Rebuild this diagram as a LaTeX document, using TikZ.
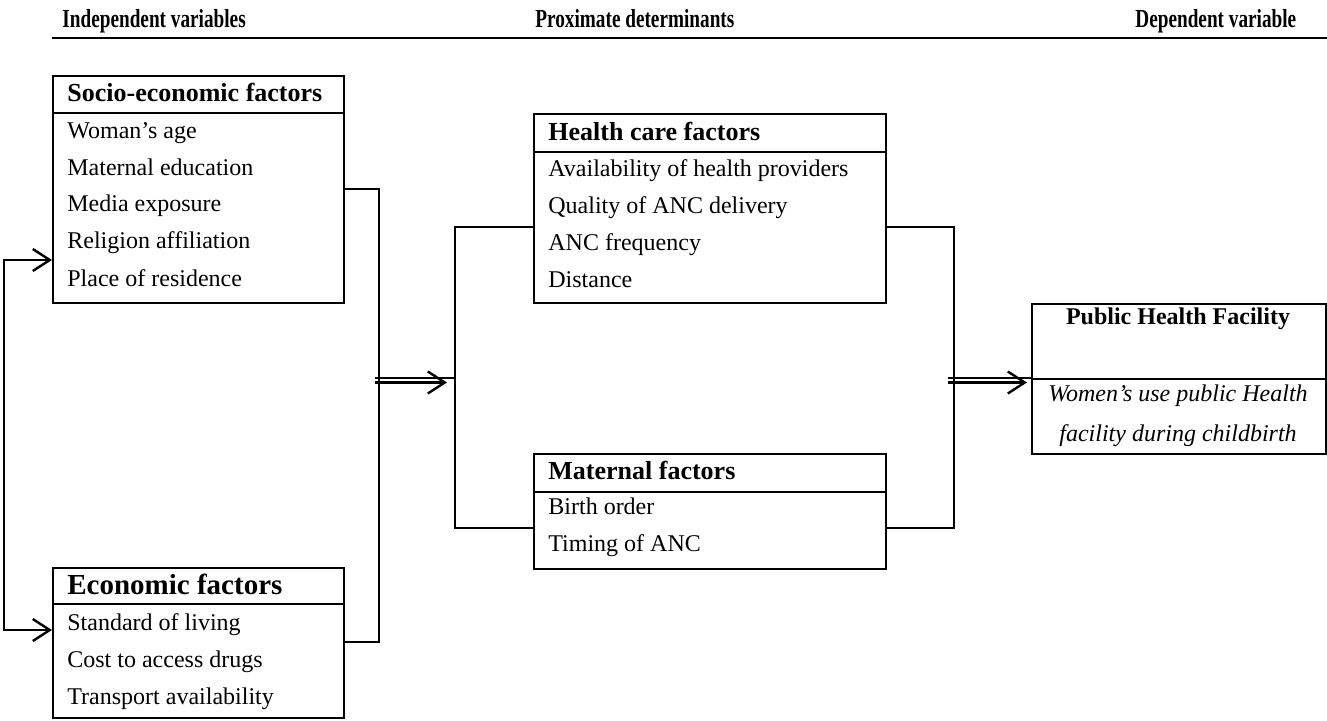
\documentclass[tikz,border=0pt]{standalone}
\usepackage{fontspec}
\setmainfont{Liberation Serif}
\usetikzlibrary{arrows.meta,calc}
\begin{document}
\begin{tikzpicture}[x=0.5pt,y=-0.5pt,
  frame/.style={draw, line width=1.2pt, rectangle, anchor=north west, inner sep=0pt},
  colhead/.style={anchor=west, inner sep=0pt, text height=10pt, text depth=1.2pt,
    font=\fontsize{13pt}{15pt}\selectfont\bfseries},
  boxtitle/.style={anchor=west, inner sep=0pt, text height=10.1pt, text depth=1.2pt,
    font=\fontsize{13pt}{15pt}\selectfont\bfseries},
  bigtitle/.style={anchor=west, inner sep=0pt, text height=11.1pt, text depth=1.5pt,
    font=\fontsize{14.5pt}{17pt}\selectfont\bfseries},
  item/.style={anchor=west, inner sep=0pt, text height=9.5pt, text depth=1pt,
    font=\fontsize{12pt}{14pt}\selectfont},
  outcome/.style={anchor=center, inner sep=0pt, text height=8pt, text depth=2.5pt,
    font=\fontsize{12pt}{14pt}\selectfont\itshape},
  link/.style={line width=1.2pt},
  barb/.style={-{Straight Barb[length=8.5pt,width=11pt]}},
  twobarb/.style={{Straight Barb[length=8.5pt,width=11pt]}-{Straight Barb[length=8.5pt,width=11pt]}},
]
\useasboundingbox (0,0) rectangle (1327,720);

% column headings and rule
\node[colhead] (hInd)  at (62,19)   {\scalebox{0.74}[1]{Independent variables}};
\node[colhead] (hProx) at (535,19)  {\scalebox{0.74}[1]{Proximate determinants}};
\node[colhead] (hDep)  at (1135,19) {\scalebox{0.74}[1]{Dependent variable}};
\coordinate (ruleL) at (52,38);
\coordinate (ruleR) at (1327,38);
\draw[line width=1.3pt] (ruleL) -- (ruleR);

% socio-economic factors
\node[frame, minimum width=145.5pt, minimum height=18.5pt] (socioH) at (52,75) {};
\node[frame, minimum width=145.5pt, minimum height=95pt]   (socioB) at (52,112) {};
\node[boxtitle] (socioT) at (67,93) {Socio-economic factors};
\node[item] (s1) at (67,130) {Woman’s age};
\node[item] (s2) at (67,167) {Maternal education};
\node[item] (s3) at (67,203) {Media exposure};
\node[item] (s4) at (67,240) {Religion affiliation};
\node[item] (s5) at (67,278) {Place of residence};

% economic factors
\node[frame, minimum width=145.5pt, minimum height=18pt] (econH) at (52,567) {};
\node[frame, minimum width=145.5pt, minimum height=57pt] (econB) at (52,603) {};
\node[bigtitle] (econT) at (67,585) {Economic factors};
\node[item] (e1) at (67,622) {Standard of living};
\node[item] (e2) at (67,659) {Cost to access drugs};
\node[item] (e3) at (67,696) {Transport availability};

% health care factors
\node[frame, minimum width=176pt, minimum height=19pt]   (healthH) at (533,113) {};
\node[frame, minimum width=176pt, minimum height=75.5pt] (healthB) at (533,151) {};
\node[boxtitle] (healthT) at (548,132) {Health care factors};
\node[item] (h1) at (548,168) {Availability of health providers};
\node[item] (h2) at (548,205) {Quality of ANC delivery};
\node[item] (h3) at (548,242) {ANC frequency};
\node[item] (h4) at (548,279) {Distance};

% maternal factors
\node[frame, minimum width=176pt, minimum height=19pt]   (matH) at (533,453) {};
\node[frame, minimum width=176pt, minimum height=38.5pt] (matB) at (533,491) {};
\node[boxtitle] (matT) at (548,471) {Maternal factors};
\node[item] (m1) at (548,506) {Birth order};
\node[item] (m2) at (548,543) {Timing of ANC};

% outcome
\node[frame, minimum width=147pt, minimum height=37.5pt] (pubH) at (1031,303) {};
\node[frame, minimum width=147pt, minimum height=37.5pt] (pubB) at (1031,378) {};
\node[outcome, font=\fontsize{12pt}{14pt}\selectfont\bfseries] (pubT) at (1178,319) {Public Health Facility};
\node[outcome] (o1) at (1178,396) {Women’s use public Health};
\node[outcome] (o2) at (1178,436) {facility during childbirth};

% feedback link between the two background boxes
\coordinate (lJ1) at (4,260);
\coordinate (lJ2) at (4,630);
\draw[link, twobarb] (socioB.west |- lJ1) -- (lJ1) -- (lJ2) -- (econB.west |- lJ2);

% background boxes joined on the right
\coordinate (sJ1) at (379,189);
\coordinate (sJ2) at (379,642);
\draw[link] (socioB.east |- sJ1) -- (sJ1) -- (sJ2) -- (econB.east |- sJ2);

% proximate boxes joined on both sides
\coordinate (mJ1) at (455,227);
\coordinate (mJ2) at (455,528);
\draw[link] (healthB.west |- mJ1) -- (mJ1) -- (mJ2) -- (matB.west |- mJ2);
\coordinate (rJ1) at (954,227);
\coordinate (rJ2) at (954,528);
\draw[link] (healthB.east |- rJ1) -- (rJ1) -- (rJ2) -- (matB.east |- rJ2);

% double arrow into the proximate determinants
\coordinate (dA) at (375,378);
\draw[link] (dA) -- (mJ1 |- dA);
\draw[link, barb] ($(dA)+(0,4.5)$) -- ($(mJ1 |- dA)+(-8,4.5)$);

% double arrow into the outcome
\coordinate (dB) at (948,378);
\draw[link] (dB) -- (pubB.north west);
\draw[link, barb] ($(dB)+(0,4.5)$) -- ($(pubB.north west)+(-4,4.5)$);
\end{tikzpicture}
\end{document}
